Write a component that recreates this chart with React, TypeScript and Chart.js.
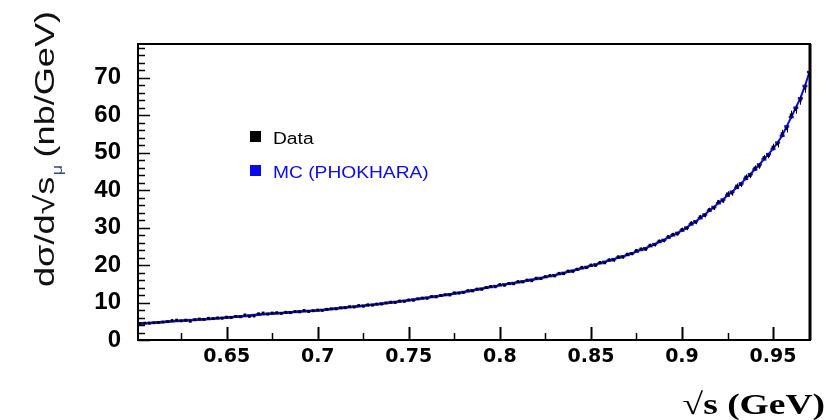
import { useEffect, useRef } from "react";
import { Chart, registerables } from "chart.js";

Chart.register(...registerables);

// sqrt(s) bin centres in GeV
const SQRT_S = [
  0.6000, 0.6025, 0.6050, 0.6075, 0.6100, 0.6125, 0.6150, 0.6175, 0.6200, 0.6225,
  0.6250, 0.6275, 0.6300, 0.6325, 0.6350, 0.6375, 0.6400, 0.6425, 0.6450, 0.6475,
  0.6500, 0.6525, 0.6550, 0.6575, 0.6600, 0.6625, 0.6650, 0.6675, 0.6700, 0.6725,
  0.6750, 0.6775, 0.6800, 0.6825, 0.6850, 0.6875, 0.6900, 0.6925, 0.6950, 0.6975,
  0.7000, 0.7025, 0.7050, 0.7075, 0.7100, 0.7125, 0.7150, 0.7175, 0.7200, 0.7225,
  0.7250, 0.7275, 0.7300, 0.7325, 0.7350, 0.7375, 0.7400, 0.7425, 0.7450, 0.7475,
  0.7500, 0.7525, 0.7550, 0.7575, 0.7600, 0.7625, 0.7650, 0.7675, 0.7700, 0.7725,
  0.7750, 0.7775, 0.7800, 0.7825, 0.7850, 0.7875, 0.7900, 0.7925, 0.7950, 0.7975,
  0.8000, 0.8025, 0.8050, 0.8075, 0.8100, 0.8125, 0.8150, 0.8175, 0.8200, 0.8225,
  0.8250, 0.8275, 0.8300, 0.8325, 0.8350, 0.8375, 0.8400, 0.8425, 0.8450, 0.8475,
  0.8500, 0.8525, 0.8550, 0.8575, 0.8600, 0.8625, 0.8650, 0.8675, 0.8700, 0.8725,
  0.8750, 0.8775, 0.8800, 0.8825, 0.8850, 0.8875, 0.8900, 0.8925, 0.8950, 0.8975,
  0.9000, 0.9025, 0.9050, 0.9075, 0.9100, 0.9125, 0.9150, 0.9175, 0.9200, 0.9225,
  0.9250, 0.9275, 0.9300, 0.9325, 0.9350, 0.9375, 0.9400, 0.9425, 0.9450, 0.9475,
  0.9500, 0.9525, 0.9550, 0.9575, 0.9600, 0.9625, 0.9650, 0.9675, 0.9700,
];

// MC (PHOKHARA) dσ/d√s in nb/GeV
const MC_VALUES = [
  4.30, 4.38, 4.45, 4.52, 4.60, 4.70, 4.80, 4.90, 5.00, 5.08,
  5.15, 5.22, 5.30, 5.38, 5.45, 5.52, 5.60, 5.70, 5.80, 5.90,
  6.00, 6.10, 6.20, 6.30, 6.40, 6.52, 6.65, 6.78, 6.90, 6.98,
  7.05, 7.12, 7.20, 7.30, 7.40, 7.50, 7.60, 7.68, 7.75, 7.82,
  7.90, 8.02, 8.15, 8.28, 8.40, 8.52, 8.65, 8.78, 8.90, 9.02,
  9.15, 9.28, 9.40, 9.55, 9.70, 9.85, 10.00, 10.15, 10.30, 10.45,
  10.60, 10.78, 10.95, 11.12, 11.30, 11.48, 11.65, 11.82, 12.00, 12.20,
  12.40, 12.60, 12.80, 13.02, 13.25, 13.48, 13.70, 13.92, 14.15, 14.38,
  14.60, 14.80, 15.00, 15.20, 15.40, 15.62, 15.85, 16.08, 16.30, 16.55,
  16.80, 17.05, 17.30, 17.60, 17.90, 18.20, 18.50, 18.82, 19.15, 19.48,
  19.80, 20.15, 20.50, 20.85, 21.20, 21.58, 21.95, 22.32, 22.70, 23.15,
  23.60, 24.05, 24.50, 25.05, 25.60, 26.15, 26.70, 27.32, 27.95, 28.58,
  29.20, 30.00, 30.85, 31.68, 32.50, 33.50, 34.50, 35.50, 36.50, 37.50,
  38.55, 39.58, 40.60, 41.80, 43.00, 44.25, 45.50, 46.85, 48.20, 49.60,
  51.00, 52.70, 54.50, 57.00, 59.50, 62.00, 64.50, 67.80, 71.50,
];

// Data dσ/d√s in nb/GeV
const DATA_VALUES = [
  4.3, 4.4, 4.5, 4.5, 4.6, 4.7, 4.8, 4.9, 5.2, 5.3,
  5.1, 5.3, 5.0, 5.4, 5.6, 5.5, 5.8, 5.7, 5.9, 5.8,
  6.1, 6.0, 6.3, 6.2, 6.7, 6.3, 6.4, 7.0, 7.2, 6.9,
  7.2, 7.3, 7.1, 7.4, 7.3, 7.6, 7.5, 7.9, 7.6, 7.8,
  8.0, 7.9, 8.2, 8.3, 8.3, 8.6, 8.6, 8.9, 8.8, 9.2,
  9.0, 9.4, 9.3, 9.6, 9.6, 9.9, 10.1, 10.0, 10.4, 10.3,
  10.7, 10.6, 11.0, 11.2, 11.1, 11.6, 11.5, 11.9, 12.1, 12.0,
  12.6, 12.5, 12.7, 13.2, 13.1, 13.6, 13.5, 14.0, 14.3, 14.2,
  14.8, 14.6, 15.1, 15.0, 15.6, 15.5, 16.0, 15.8, 16.5, 16.4,
  16.9, 17.2, 17.1, 17.8, 17.7, 18.4, 18.3, 18.9, 19.4, 19.3,
  20.0, 19.9, 20.7, 20.6, 21.4, 21.3, 22.2, 22.1, 22.9, 23.0,
  23.9, 24.3, 24.2, 25.3, 25.4, 26.4, 26.5, 27.6, 28.2, 28.3,
  29.5, 29.8, 31.2, 31.4, 32.9, 33.2, 34.8, 35.2, 36.9, 37.1,
  39.0, 39.2, 41.1, 41.5, 43.5, 43.9, 45.9, 46.4, 48.7, 49.2,
  51.5, 52.3, 55.1, 56.4, 60.1, 61.5, 64.0, 67.2, 70.8,
];

const DATA_ERRORS = [
  0.2, 0.2, 0.2, 0.2, 0.2, 0.2, 0.2, 0.2, 0.2, 0.2,
  0.2, 0.2, 0.2, 0.2, 0.2, 0.2, 0.2, 0.2, 0.2, 0.2,
  0.2, 0.2, 0.2, 0.2, 0.2, 0.2, 0.2, 0.2, 0.2, 0.2,
  0.2, 0.2, 0.2, 0.2, 0.2, 0.2, 0.2, 0.2, 0.2, 0.2,
  0.25, 0.25, 0.25, 0.25, 0.25, 0.25, 0.25, 0.25, 0.25, 0.25,
  0.25, 0.25, 0.25, 0.25, 0.25, 0.25, 0.25, 0.25, 0.25, 0.25,
  0.25, 0.25, 0.25, 0.25, 0.25, 0.25, 0.25, 0.25, 0.25, 0.25,
  0.25, 0.25, 0.25, 0.25, 0.25, 0.25, 0.25, 0.25, 0.25, 0.25,
  0.3, 0.3, 0.3, 0.3, 0.3, 0.3, 0.3, 0.3, 0.3, 0.3,
  0.3, 0.3, 0.3, 0.3, 0.3, 0.3, 0.3, 0.3, 0.3, 0.3,
  0.35, 0.35, 0.35, 0.35, 0.35, 0.35, 0.35, 0.35, 0.35, 0.35,
  0.4, 0.4, 0.4, 0.4, 0.4, 0.4, 0.4, 0.4, 0.4, 0.4,
  0.5, 0.5, 0.5, 0.5, 0.5, 0.5, 0.5, 0.5, 0.5, 0.5,
  0.7, 0.7, 0.7, 0.7, 0.7, 0.7, 0.7, 0.7, 0.7, 0.7,
  0.9, 0.9, 1.0, 1.0, 1.1, 1.1, 1.2, 1.2, 1.3,
];

const SERIES_LABELS = ["Data", "MC (PHOKHARA)"];
const SERIES_COLORS = ["#000000", "#0a0ae6"];
const X_RANGE = [0.6013, 0.9703];
const Y_RANGE = [0, 79];
const X_MAJOR = 0.05;
const X_MINOR = 0.025;
const Y_MAJOR = 10;
const Y_MINOR = 2;
const Y_TITLE = ["dσ/d√s", "μ", " (nb/GeV)"];
const X_TITLE = "√s (GeV)";

const rootStyle = {
  id: "rootStyle",
  afterDatasetsDraw(chart: any) {
    const { ctx, chartArea: a, scales } = chart;
    const x = scales.x;
    const y = scales.y;
    ctx.save();
    ctx.beginPath();
    ctx.rect(a.left, a.top, a.right - a.left, a.bottom - a.top);
    ctx.clip();
    ctx.strokeStyle = "#000";
    ctx.lineWidth = 1;
    for (let i = 0; i < SQRT_S.length; i++) {
      const px = Math.round(x.getPixelForValue(SQRT_S[i])) + 0.5;
      const y1 = y.getPixelForValue(DATA_VALUES[i] - DATA_ERRORS[i]);
      const y2 = y.getPixelForValue(DATA_VALUES[i] + DATA_ERRORS[i]);
      ctx.beginPath();
      ctx.moveTo(px, y1);
      ctx.lineTo(px, y2);
      ctx.stroke();
    }
    ctx.restore();
  },
  afterDraw(chart: any) {
    const { ctx, chartArea: a, scales } = chart;
    const x = scales.x;
    const y = scales.y;
    ctx.save();
    // ticks inside frame
    ctx.strokeStyle = "#000";
    const kx0 = Math.ceil(X_RANGE[0] / X_MINOR - 1e-6);
    const kx1 = Math.floor(X_RANGE[1] / X_MINOR + 1e-6);
    const ratioX = Math.round(X_MAJOR / X_MINOR);
    for (let k = kx0; k <= kx1; k++) {
      const px = Math.round(x.getPixelForValue(k * X_MINOR)) + 0.5;
      const major = k % ratioX === 0;
      ctx.lineWidth = major ? 2 : 1.5;
      ctx.beginPath();
      ctx.moveTo(px, a.bottom);
      ctx.lineTo(px, a.bottom - (major ? 13 : 7));
      ctx.stroke();
    }
    const ky1 = Math.floor(Y_RANGE[1] / Y_MINOR);
    const ratioY = Math.round(Y_MAJOR / Y_MINOR);
    for (let k = 0; k <= ky1; k++) {
      const py = Math.round(y.getPixelForValue(k * Y_MINOR)) + 0.5;
      const major = k % ratioY === 0;
      ctx.lineWidth = 1.5;
      ctx.beginPath();
      ctx.moveTo(a.left, py);
      ctx.lineTo(a.left + (major ? 12 : 7), py);
      ctx.stroke();
    }
    // frame
    ctx.lineWidth = 2;
    ctx.strokeRect(a.left, a.top, a.right - a.left, a.bottom - a.top);
    ctx.lineWidth = 3;
    ctx.beginPath();
    ctx.moveTo(a.right, a.top);
    ctx.lineTo(a.right, a.bottom);
    ctx.stroke();

    // legend
    const ds = chart.data.datasets;
    const lx = a.left + 112;
    const ly = [a.top + 87, a.top + 121];
    ds.forEach((d: any, i: number) => {
      ctx.fillStyle = SERIES_COLORS[i];
      ctx.fillRect(lx, ly[i], 11, 11);
      ctx.save();
      ctx.translate(lx + 23, ly[i] + 13);
      ctx.scale(1.2, 1);
      ctx.font = "16px 'Liberation Sans', Arial, sans-serif";
      ctx.textAlign = "left";
      ctx.textBaseline = "alphabetic";
      ctx.fillText(d.label, 0, 0);
      ctx.restore();
    });

    // y title
    ctx.save();
    ctx.fillStyle = "#111";
    ctx.translate(54, 287);
    ctx.rotate(-Math.PI / 2);
    ctx.scale(1.29, 1);
    ctx.textBaseline = "alphabetic";
    ctx.textAlign = "left";
    ctx.font = "28px 'Liberation Sans', Arial, sans-serif";
    ctx.fillText(Y_TITLE[0], 0, 0);
    const w1 = ctx.measureText(Y_TITLE[0]).width;
    ctx.font = "14px 'Liberation Sans', Arial, sans-serif";
    ctx.fillStyle = "#3a4a7a";
    ctx.fillText(Y_TITLE[1], w1 + 1, 8);
    const w2 = ctx.measureText(Y_TITLE[1]).width;
    ctx.fillStyle = "#111";
    ctx.font = "28px 'Liberation Sans', Arial, sans-serif";
    ctx.fillText(Y_TITLE[2], w1 + w2 - 1, 0);
    ctx.restore();

    // x title
    ctx.save();
    ctx.fillStyle = "#000";
    ctx.translate(825, 414);
    ctx.scale(1.25, 1);
    ctx.textAlign = "right";
    ctx.textBaseline = "alphabetic";
    ctx.font = "bold 30px 'Liberation Serif', 'Times New Roman', serif";
    ctx.fillText(X_TITLE, 0, 0);
    ctx.restore();
    ctx.restore();
  },
};

export default function App() {
  const ref = useRef<HTMLCanvasElement | null>(null);
  useEffect(() => {
    document.body.style.margin = "0";
    const canvas = ref.current;
    if (!canvas) return;
    const chart = new Chart(canvas, {
      type: "scatter",
      data: {
        datasets: [
          {
            label: SERIES_LABELS[0],
            data: SQRT_S.map((s, i) => ({ x: s, y: DATA_VALUES[i] })),
            backgroundColor: SERIES_COLORS[0],
            borderColor: SERIES_COLORS[0],
            pointStyle: "rect",
            pointRadius: 2,
            borderWidth: 0,
            showLine: false,
          },
          {
            label: SERIES_LABELS[1],
            data: SQRT_S.map((s, i) => ({ x: s, y: MC_VALUES[i] })),
            backgroundColor: SERIES_COLORS[1],
            borderColor: SERIES_COLORS[1],
            pointStyle: "line",
            pointRadius: 2.5,
            pointBorderWidth: 2.5,
            borderWidth: 2,
            showLine: true,
            tension: 0,
          },
        ],
      },
      options: {
        responsive: false,
        devicePixelRatio: 1,
        animation: false,
        layout: { padding: { left: 0, top: 44, right: 26, bottom: 0 } },
        plugins: {
          legend: { display: false },
          tooltip: { enabled: false },
        },
        scales: {
          x: {
            type: "linear",
            min: X_RANGE[0],
            max: X_RANGE[1],
            grid: { display: false, drawTicks: false },
            border: { display: false },
            ticks: {
              stepSize: X_MAJOR,
              includeBounds: false,
              padding: 6,
              color: "#000",
              font: { family: "'DejaVu Sans'", size: 19, weight: "bold" },
              callback: (v: any) => String(Number(Number(v).toFixed(3))),
            },
            afterFit: (s: any) => {
              s.height = 80;
            },
          },
          y: {
            type: "linear",
            min: Y_RANGE[0],
            max: Y_RANGE[1],
            grid: { display: false, drawTicks: false },
            border: { display: false },
            ticks: {
              stepSize: Y_MAJOR,
              includeBounds: false,
              padding: 17,
              color: "#000",
              font: { family: "'Liberation Sans'", size: 24, weight: "bold" },
            },
            afterFit: (s: any) => {
              s.width = 138;
            },
          },
        },
      },
      plugins: [rootStyle],
    });
    return () => chart.destroy();
  }, []);
  return (
    <canvas
      ref={ref}
      width={836}
      height={420}
      style={{ display: "block", width: 836, height: 420 }}
    />
  );
}
